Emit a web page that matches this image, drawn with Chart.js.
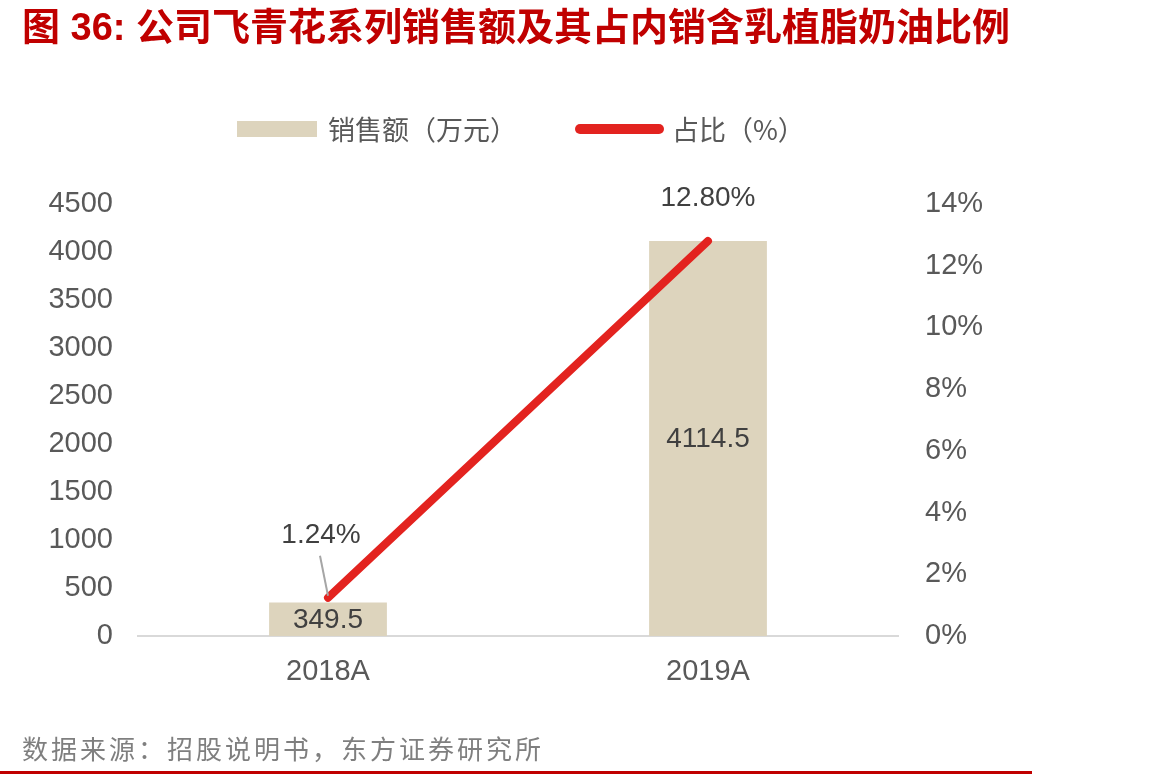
<!DOCTYPE html>
<html lang="zh-CN">
<head>
  <meta charset="UTF-8">
  <title>公司飞青花系列销售额及其占内销含乳植脂奶油比例</title>
  <script src="https://cdn.jsdelivr.net/npm/chart.js"></script>
  <style>
    body {
      margin: 0;
      width: 1164px;
      height: 779px;
      background: #fff;
      position: relative;
      overflow: hidden;
      font-family: "Liberation Sans", Arial, "Noto Sans CJK SC", sans-serif;
    }
    .title {
      position: absolute;
      left: 22px;
      top: -4px;
      font-family: "Liberation Sans", "Noto Sans CJK SC", sans-serif;
      font-weight: bold;
      font-size: 38px;
      color: #c00000;
      white-space: nowrap;
    }
    .legend {
      position: absolute;
      top: 109px;
      left: 237px;
      display: flex;
      align-items: center;
      font-family: "Noto Sans CJK SC", sans-serif;
      font-size: 27px;
      color: #595959;
      z-index: 2;
    }
    .legend .box {
      width: 80px;
      height: 16px;
      background: #ddd4bd;
      margin-right: 11px;
    }
    .legend .ln {
      width: 89px;
      height: 10px;
      border-radius: 5px;
      background: #e3231f;
      margin-left: 58px;
      margin-right: 8px;
    }
    .chart-box {
      position: absolute;
      left: 0;
      top: 0;
      width: 1164px;
      height: 779px;
    }
    .source {
      position: absolute;
      left: 22px;
      top: 729px;
      font-family: "Noto Sans CJK SC", sans-serif;
      font-size: 26px;
      letter-spacing: 3px;
      color: #7f7f7f;
      white-space: nowrap;
    }
    .rule {
      position: absolute;
      left: 0;
      top: 771px;
      width: 1032px;
      height: 3px;
      background: #c00000;
    }
  </style>
</head>
<body>
  <div class="chart-box"><canvas id="chart"></canvas></div>
  <div class="title">图 36: 公司飞青花系列销售额及其占内销含乳植脂奶油比例</div>
  <div class="legend">
    <div class="box"></div><span>销售额（万元）</span>
    <div class="ln"></div><span>占比（%）</span>
  </div>
  <div class="source">数据来源：招股说明书，东方证券研究所</div>
  <div class="rule"></div>
  <script>
    // 数据
    var categories = ['2018A', '2019A'];
    var salesValues = [349.5, 4114.5];     // 销售额（万元）
    var shareValues = [1.24, 12.80];       // 占比（%）
    var leftTicks = [0, 500, 1000, 1500, 2000, 2500, 3000, 3500, 4000, 4500];
    var rightTicks = [0, 2, 4, 6, 8, 10, 12, 14];

    var numFont = '"Liberation Sans", Arial, sans-serif';

    // 数据标签（Chart.js 本身没有，这里简单画一下）
    var valueLabels = {
      id: 'valueLabels',
      afterDatasetsDraw: function(chart) {
        var ctx = chart.ctx;
        ctx.save();
        ctx.font = '28px ' + numFont;
        ctx.fillStyle = '#404040';
        ctx.textAlign = 'center';
        ctx.textBaseline = 'middle';

        // 柱子：居中
        chart.getDatasetMeta(1).data.forEach(function(bar, i) {
          ctx.fillText(salesValues[i].toFixed(1), bar.x, (bar.y + bar.base) / 2 + 1);
        });

        // 折线：上方
        chart.getDatasetMeta(0).data.forEach(function(pt, i) {
          var txt = shareValues[i].toFixed(2) + '%';
          if (i === 0) {
            ctx.strokeStyle = '#a6a6a6';
            ctx.lineWidth = 2;
            ctx.beginPath();
            ctx.moveTo(pt.x - 8, pt.y - 42);
            ctx.lineTo(pt.x, pt.y - 2);
            ctx.stroke();
            ctx.fillText(txt, pt.x - 7, pt.y - 62);
          } else {
            ctx.fillText(txt, pt.x, pt.y - 43);
          }
        });
        ctx.restore();
      }
    };

    var ctx = document.getElementById('chart').getContext('2d');
    var chart = new Chart(ctx, {
      data: {
        labels: categories,
        datasets: [{
          type: 'line',
          label: '占比（%）',
          data: shareValues,
          yAxisID: 'y1',
          borderColor: '#e3231f',
          borderWidth: 8,
          borderCapStyle: 'round',
          pointRadius: 0,
          tension: 0,
          order: 0
        }, {
          type: 'bar',
          label: '销售额（万元）',
          data: salesValues,
          yAxisID: 'y',
          backgroundColor: '#ddd4bd',
          categoryPercentage: 1,
          barPercentage: 0.31,
          order: 1
        }]
      },
      options: {
        responsive: true,
        maintainAspectRatio: false,
        animation: false,
        layout: {
          padding: { top: 204, left: 0, right: 0, bottom: 0 }
        },
        plugins: {
          legend: { display: false },
          tooltip: { enabled: false }
        },
        scales: {
          x: {
            grid: { display: false, drawTicks: false },
            border: { color: '#d9d9d9', width: 2 },
            ticks: {
              color: '#595959',
              padding: 19,
              font: { size: 29, family: numFont }
            },
            afterFit: function(scale) { scale.height = 143; }
          },
          y: {
            position: 'left',
            min: 0,
            max: leftTicks[leftTicks.length - 1],
            grid: { display: false, drawTicks: false },
            border: { display: false },
            afterBuildTicks: function(scale) {
              scale.ticks = leftTicks.map(function(v) { return { value: v }; });
            },
            ticks: {
              color: '#595959',
              padding: 25,
              font: { size: 29, family: numFont },
              callback: function(v) { return String(v); }
            },
            afterFit: function(scale) { scale.width = 138; }
          },
          y1: {
            position: 'right',
            min: 0,
            max: rightTicks[rightTicks.length - 1],
            grid: { display: false, drawTicks: false },
            border: { display: false },
            afterBuildTicks: function(scale) {
              scale.ticks = rightTicks.map(function(v) { return { value: v }; });
            },
            ticks: {
              color: '#595959',
              padding: 27,
              font: { size: 29, family: numFont },
              callback: function(v) { return v + '%'; }
            },
            afterFit: function(scale) { scale.width = 266; }
          }
        }
      },
      plugins: [valueLabels]
    });
  </script>
</body>
</html>
